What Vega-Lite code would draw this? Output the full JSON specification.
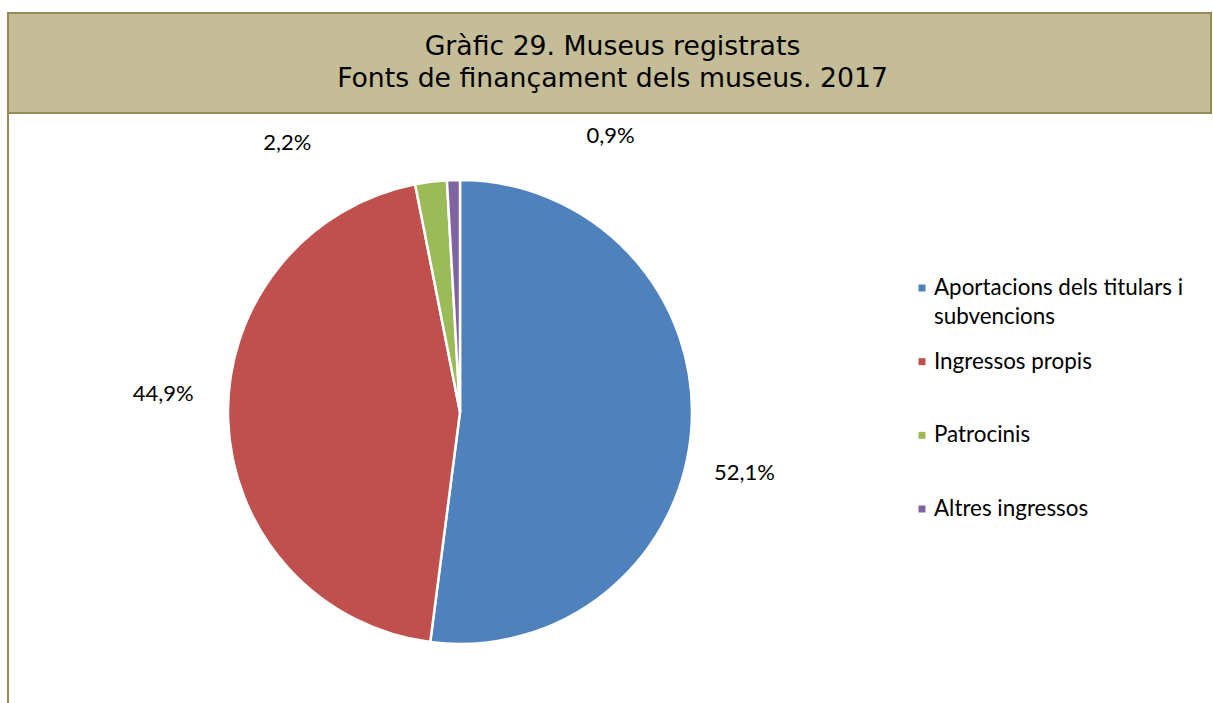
{
  "$schema": "https://vega.github.io/schema/vega-lite/v6.json",
  "padding": {"left": 7, "top": 12, "right": 0, "bottom": 0},
  "background": "white",
  "bounds": "flush",
  "spacing": 0,
  "config": {"view": {"stroke": null}, "concat": {"spacing": 0}},
  "datasets": {
    "d": [
      {"cat": "Aportacions dels titulars i subvencions", "leg": "Aportacions dels titulars i\nsubvencions", "value": 52.1, "label": "52,1%", "ord": 1},
      {"cat": "Ingressos propis", "leg": "Ingressos propis", "value": 44.9, "label": "44,9%", "ord": 2},
      {"cat": "Patrocinis", "leg": "Patrocinis", "value": 2.2, "label": "2,2%", "ord": 3},
      {"cat": "Altres ingressos", "leg": "Altres ingressos", "value": 0.9, "label": "0,9%", "ord": 4}
    ],
    "t": [{"title": "Gràfic 29. Museus registrats\nFonts de finançament dels museus. 2017"}]
  },
  "vconcat": [
    {
      "width": 1203, "height": 100,
      "view": {"fill": "#C4BD97", "stroke": "#948A54", "strokeWidth": 2},
      "data": {"name": "t"},
      "mark": {"type": "text", "font": "DejaVu Sans", "fontSize": 26.7, "lineBreak": "\n", "lineHeight": 32, "baseline": "middle", "align": "center", "dx": 3, "dy": -16, "color": "black"},
      "encoding": {"text": {"field": "title"}}
    },
    {
      "spacing": 0,
      "bounds": "flush",
      "hconcat": [
        {
          "width": 904, "height": 598,
          "data": {"name": "d"},
          "layer": [
            {
              "mark": {"type": "rule", "color": "#948A54", "strokeWidth": 2},
              "encoding": {"x": {"datum": 0, "type": "quantitative", "scale": {"domain": [0, 1]}, "axis": null}}
            },
            {
              "mark": {"type": "arc", "outerRadius": 232, "stroke": "white", "strokeWidth": 2.5},
              "encoding": {
                "theta": {"field": "value", "type": "quantitative", "stack": true},
                "order": {"field": "ord"},
                "color": {"field": "cat", "type": "nominal", "legend": null,
                  "scale": {"domain": ["Aportacions dels titulars i subvencions", "Ingressos propis", "Patrocinis", "Altres ingressos"], "range": ["#4F81BD", "#C0504D", "#9BBB59", "#8064A2"]}}
              }
            },
            {
              "mark": {"type": "text", "font": "Lato", "fontSize": 22, "baseline": "middle", "align": "center", "dx": -15, "dy": 42, "color": "black"},
              "encoding": {"theta": {"field": "value", "type": "quantitative", "stack": true}, "radius": {"value": 300}, "order": {"field": "ord"}, "detail": {"field": "cat"},
                "text": {"condition": {"test": "datum.ord == 1", "field": "label"}, "value": ""}}
            },
            {
              "mark": {"type": "text", "font": "Lato", "fontSize": 22, "baseline": "middle", "align": "center", "dx": 3, "dy": -28, "color": "black"},
              "encoding": {"theta": {"field": "value", "type": "quantitative", "stack": true}, "radius": {"value": 300}, "order": {"field": "ord"}, "detail": {"field": "cat"},
                "text": {"condition": {"test": "datum.ord == 2", "field": "label"}, "value": ""}}
            },
            {
              "mark": {"type": "text", "font": "Lato", "fontSize": 22, "baseline": "middle", "align": "center", "dx": -135, "dy": 29, "color": "black"},
              "encoding": {"theta": {"field": "value", "type": "quantitative", "stack": true}, "radius": {"value": 300}, "order": {"field": "ord"}, "detail": {"field": "cat"},
                "text": {"condition": {"test": "datum.ord == 3", "field": "label"}, "value": ""}}
            },
            {
              "mark": {"type": "text", "font": "Lato", "fontSize": 22, "baseline": "middle", "align": "center", "dx": 159, "dy": 24, "color": "black"},
              "encoding": {"theta": {"field": "value", "type": "quantitative", "stack": true}, "radius": {"value": 300}, "order": {"field": "ord"}, "detail": {"field": "cat"},
                "text": {"condition": {"test": "datum.ord == 4", "field": "label"}, "value": ""}}
            }
          ]
        },
        {
          "width": 20, "height": 598,
          "data": {"name": "d"},
          "layer": [
            {
              "mark": {"type": "square", "size": 49, "opacity": 1},
              "encoding": {
                "y": {"field": "cat", "type": "nominal", "sort": ["Aportacions dels titulars i subvencions", "Ingressos propis", "Patrocinis", "Altres ingressos"], "scale": {"type": "point", "padding": 0, "range": [175, 396]}, "axis": null},
                "color": {"field": "cat", "type": "nominal", "legend": null,
                  "scale": {"domain": ["Aportacions dels titulars i subvencions", "Ingressos propis", "Patrocinis", "Altres ingressos"], "range": ["#4F81BD", "#C0504D", "#9BBB59", "#8064A2"]}}
              }
            },
            {
              "mark": {"type": "text", "font": "Lato", "fontSize": 22.4, "align": "left", "baseline": "middle", "dx": 12, "lineBreak": "\n", "lineHeight": 29, "color": "black"},
              "encoding": {
                "y": {"field": "cat", "type": "nominal", "sort": ["Aportacions dels titulars i subvencions", "Ingressos propis", "Patrocinis", "Altres ingressos"], "scale": {"type": "point", "padding": 0, "range": [175, 396]}, "axis": null},
                "text": {"field": "leg"}
              }
            }
          ]
        }
      ]
    }
  ]
}
